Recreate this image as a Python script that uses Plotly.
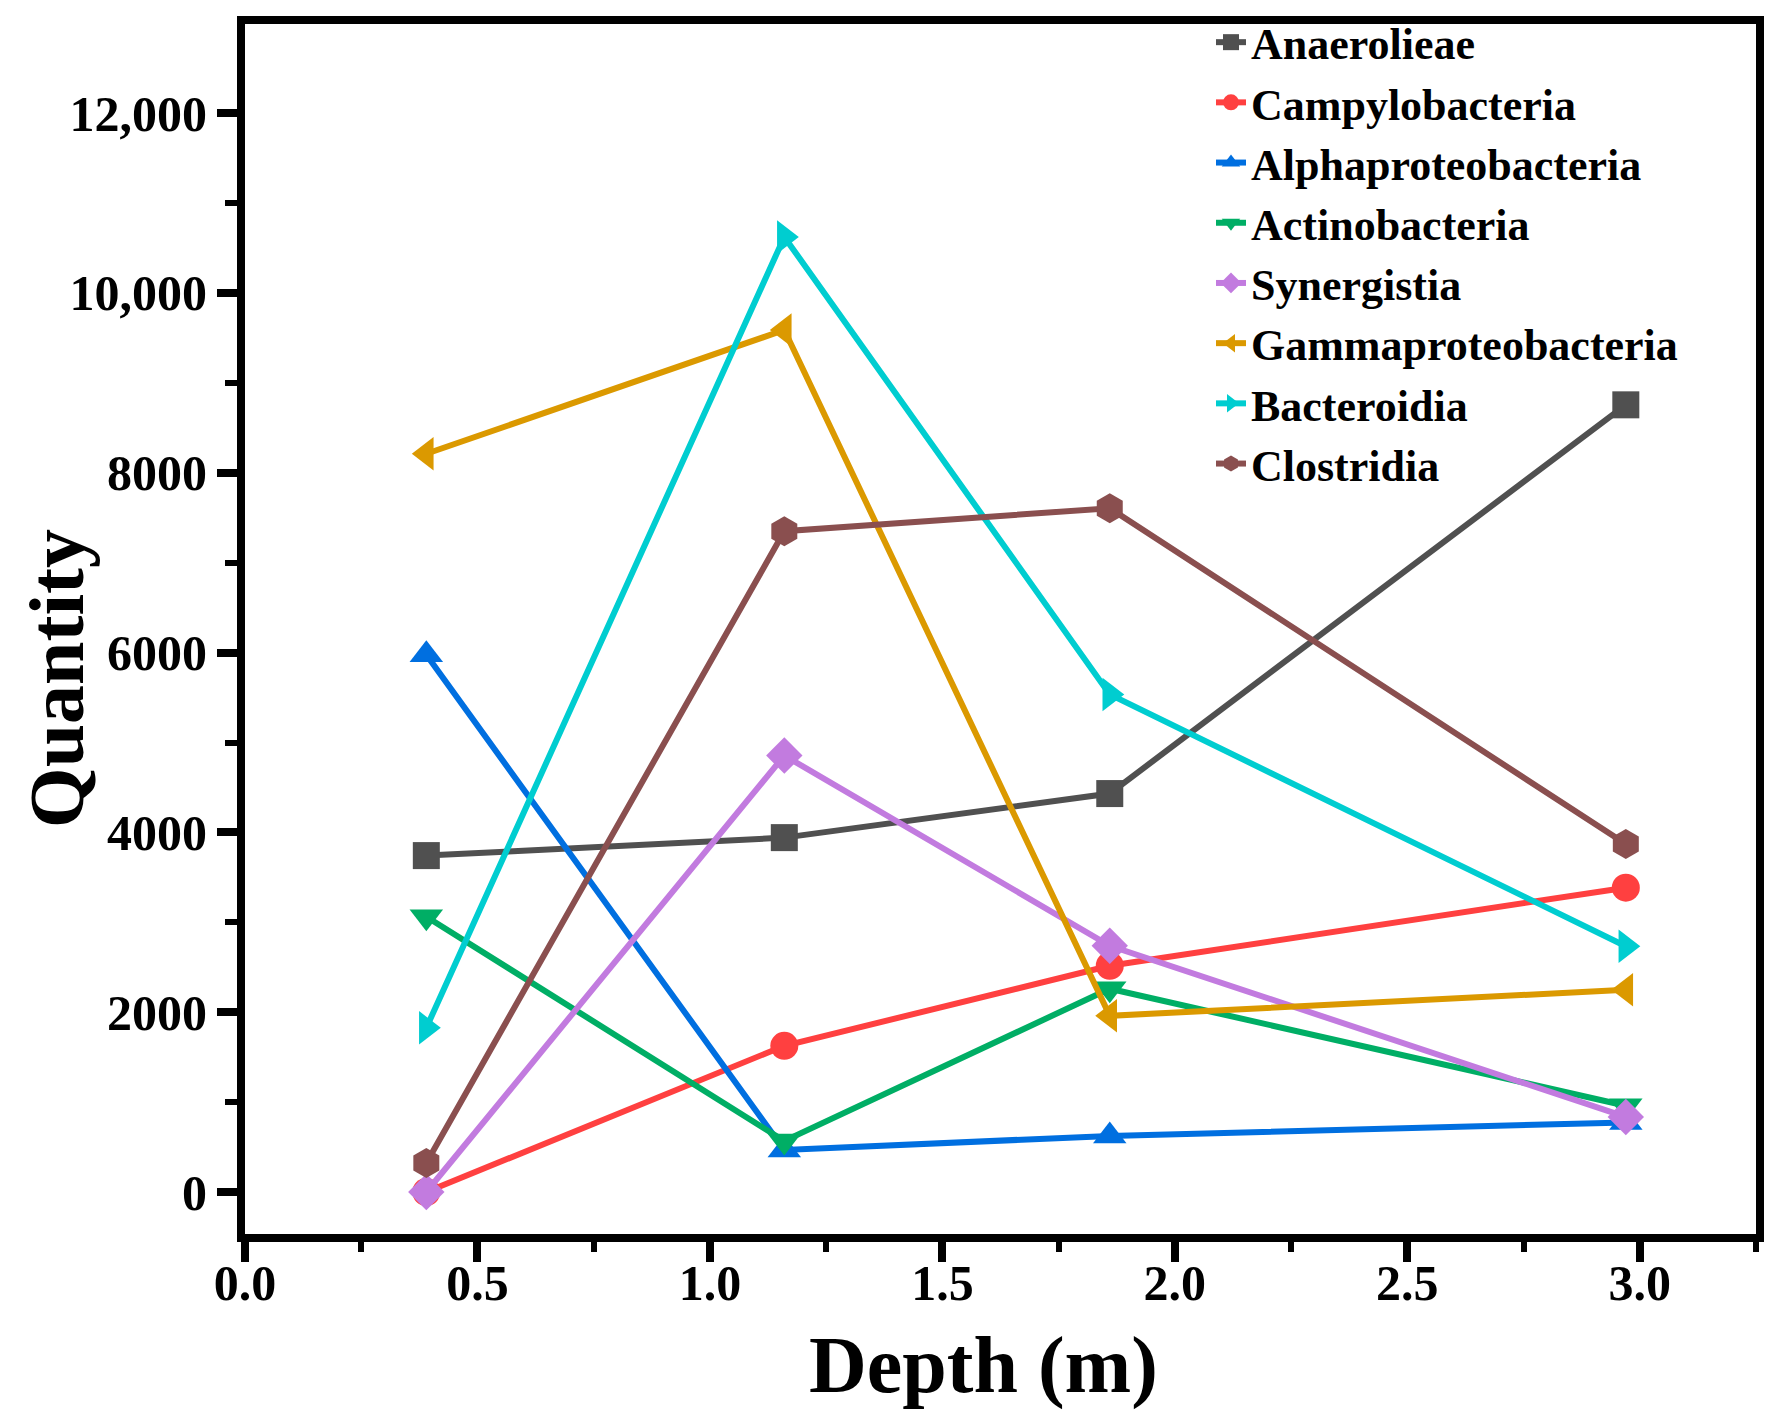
import plotly.graph_objects as go

# depth of each sample, m
depth = [0.39, 1.16, 1.86, 2.97]

# quantity per class at each depth
anaerolieae = [3742, 3942, 4432, 8756]
campylobacteria = [0, 1626, 2517, 3385]
alphaproteobacteria = [5975, 468, 624, 774]
actinobacteria = [3062, 568, 2261, 960]
synergistia = [0, 4855, 2739, 835]
gammaproteobacteria = [8212, 9588, 1960, 2249]
bacteroidia = [1826, 10624, 5535, 2734]
clostridia = [323, 7350, 7606, 3870]

y_tickvals = [0, 2000, 4000, 6000, 8000, 10000, 12000]
y_ticktext = ['0', '2000', '4000', '6000', '8000', '10,000', '12,000']

font_family = 'Liberation Serif, Times New Roman, serif'

# name, values, colour, marker symbol, marker size
series = [
    ('Anaerolieae', anaerolieae, '#505050', 'square', 27),
    ('Campylobacteria', campylobacteria, '#ff4040', 'circle', 28),
    ('Alphaproteobacteria', alphaproteobacteria, '#006fe0', 'triangle-up', 29),
    ('Actinobacteria', actinobacteria, '#00ae65', 'triangle-down', 29),
    ('Synergistia', synergistia, '#c27bdf', 'diamond', 28),
    ('Gammaproteobacteria', gammaproteobacteria, '#db9900', 'triangle-left', 29),
    ('Bacteroidia', bacteroidia, '#00cdd0', 'triangle-right', 29),
    ('Clostridia', clostridia, '#8a4f4f', 'hexagon', 30),
]

fig = go.Figure()
for name, values, color, symbol, size in series:
    fig.add_trace(go.Scatter(
        x=depth,
        y=values,
        mode='lines+markers',
        name=name,
        line=dict(color=color, width=6),
        marker=dict(color=color, symbol=symbol, size=size, line=dict(width=0)),
    ))

axis_common = dict(
    showline=True,
    linecolor='black',
    linewidth=8,
    mirror=True,
    showgrid=False,
    zeroline=False,
    ticks='outside',
    tickcolor='black',
    tickwidth=8,
    ticklen=20,
    tickfont=dict(family=font_family, size=50, color='black', weight='bold'),
)

fig.update_xaxes(
    range=[0, 3.25],
    tick0=0,
    dtick=0.5,
    tickformat='.1f',
    ticklabelstandoff=-22,
    minor=dict(ticks='outside', dtick=0.25, ticklen=10, tickwidth=6, tickcolor='black'),
    **axis_common
)
fig.update_yaxes(
    range=[-467, 12992],
    tickmode='array',
    tickvals=y_tickvals,
    ticktext=y_ticktext,
    minor=dict(ticks='outside', tick0=0, dtick=1000, ticklen=12, tickwidth=6, tickcolor='black'),
    **axis_common
)

# axis titles placed as annotations so they sit where the original has them
fig.add_annotation(
    text='Depth (m)', xref='paper', yref='paper', x=0.4887, y=-0.1083,
    xanchor='center', yanchor='middle', showarrow=False,
    font=dict(family=font_family, size=80, color='black', weight='bold'),
)
fig.add_annotation(
    text='Quantity', xref='paper', yref='paper', x=-0.1244, y=0.4587,
    xanchor='center', yanchor='middle', showarrow=False, textangle=-90,
    font=dict(family=font_family, size=78, color='black', weight='bold'),
)

fig.update_layout(
    width=1779,
    height=1424,
    # keep the legend from pushing the plot area down
    margin=dict(l=237, r=31, t=16, b=198, autoexpand=False),
    paper_bgcolor='white',
    plot_bgcolor='white',
    showlegend=True,
    legend=dict(
        x=0.6393,
        y=1.014,
        xanchor='left',
        yanchor='top',
        bgcolor='rgba(0,0,0,0)',
        font=dict(family=font_family, size=44, color='black', weight='bold'),
        tracegroupgap=0,
    ),
)

fig.write_html('out.html')
